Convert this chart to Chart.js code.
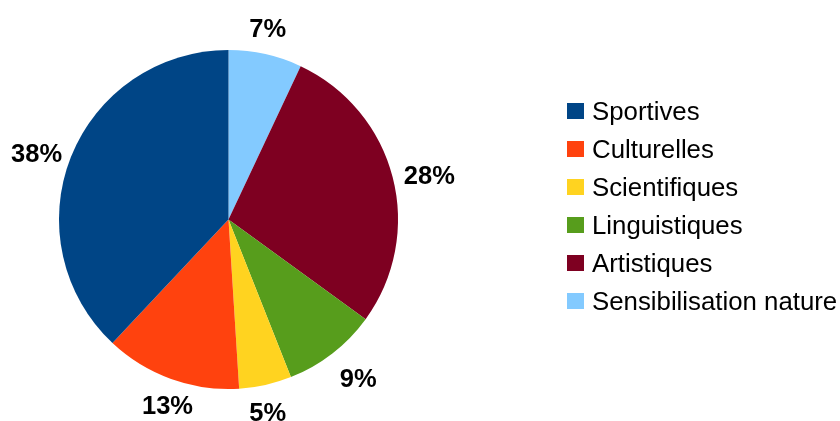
<!DOCTYPE html>
<html>
<head>
<meta charset="utf-8">
<script src="https://cdn.jsdelivr.net/npm/chart.js@4/dist/chart.umd.min.js"></script>
<style>
  html, body { margin: 0; padding: 0; background: #fff; }
  #wrap { width: 840px; height: 421px; }
</style>
</head>
<body>
<div id="wrap"><canvas id="chart" width="840" height="421"></canvas></div>
<script>
// Categories, in legend order.
var categories = ['Sportives', 'Culturelles', 'Scientifiques', 'Linguistiques', 'Artistiques', 'Sensibilisation nature'];
// Share of each category, in percent.
var shares = [38, 13, 5, 9, 28, 7];
var colors = ['#004586', '#ff420e', '#ffd320', '#579d1c', '#7e0021', '#83caff'];

// The slices run counter-clockwise from the top in the reference,
// Chart.js draws clockwise, so feed it the series backwards.
var pieLabels = categories.slice().reverse();
var pieValues = shares.slice().reverse();
var pieColors = colors.slice().reverse();

var FONT = '"Liberation Sans", Arial, sans-serif';

(function () {

  /**
   * Bold percentage labels placed just outside each slice.
   * The anchor sits a bit outside the rim; the text hangs off it
   * depending on which side of the pie it is on.
   */
  var outsideLabels = {
    id: 'outsideLabels',
    afterDatasetsDraw: function (chart) {
      var ctx = chart.ctx;
      var meta = chart.getDatasetMeta(0);
      var values = chart.data.datasets[0].data;
      var total = values.reduce(function (a, b) { return a + b; }, 0);
      var capH = 18;

      ctx.save();
      ctx.font = 'bold 25.5px ' + FONT;
      ctx.fillStyle = '#000';
      ctx.textBaseline = 'alphabetic';
      meta.data.forEach(function (arc, i) {
        var text = Math.round(values[i] / total * 100) + '%';
        var mid = (arc.startAngle + arc.endAngle) / 2;
        // dx > 0 is right, dy > 0 is down.
        var dx = Math.cos(mid);
        var dy = Math.sin(mid);
        var r = arc.outerRadius + 10.5;
        var ax = arc.x + r * dx;
        var ay = arc.y + r * dy;
        var x = ax, y;

        if (dx > 0.5) {
          ctx.textAlign = 'left';
          x = ax + 1;
        }
        else if (dx < -0.5) {
          ctx.textAlign = 'right';
          x = ax + 1;
        }
        else {
          ctx.textAlign = 'center';
        }

        if (dy < -0.5) {
          y = ay - 7;
        }
        else if (dy > 0.5) {
          y = ay + 7.5 + capH;
        }
        else {
          y = ay + capH / 2;
        }
        ctx.fillText(text, x, y);
      });
      ctx.restore();
    }
  };

  /**
   * Legend on the right, in category order.
   */
  var sideLegend = {
    id: 'sideLegend',
    afterDraw: function (chart) {
      var ctx = chart.ctx;
      var x = 567;
      var y = 111;
      var step = 38;

      ctx.save();
      ctx.font = '25.8px ' + FONT;
      ctx.textAlign = 'left';
      ctx.textBaseline = 'alphabetic';
      categories.forEach(function (name, i) {
        var cy = y + i * step;
        ctx.fillStyle = colors[i];
        ctx.fillRect(x, cy - 8, 17, 16);
        ctx.fillStyle = '#000';
        ctx.fillText(name, x + 25, cy + 8.5);
      });
      ctx.restore();
    }
  };

  new Chart(document.getElementById('chart'), {
    type: 'pie',
    plugins: [outsideLabels, sideLegend],
    data: {
      labels: pieLabels,
      datasets: [{
        data: pieValues,
        backgroundColor: pieColors,
        borderWidth: 0,
        hoverOffset: 0
      }]
    },
    options: {
      responsive: false,
      animation: false,
      events: [],
      layout: {
        padding: { left: 59, right: 442, top: 50, bottom: 32 }
      },
      plugins: {
        legend: { display: false },
        tooltip: { enabled: false }
      }
    }
  });

}());
</script>
</body>
</html>
